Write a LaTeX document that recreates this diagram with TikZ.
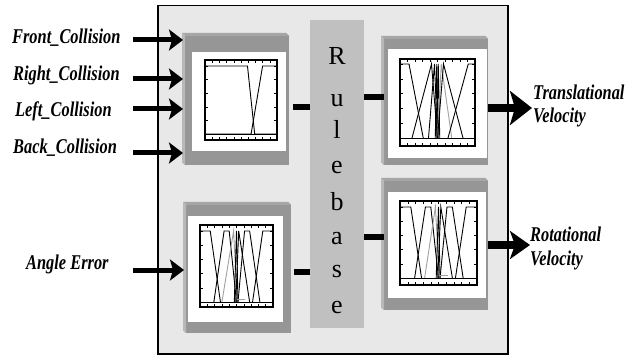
\documentclass[tikz,border=0pt]{standalone}
\usepackage{fontspec}
\setmainfont{Liberation Serif}
\newfontfamily\labfont[FakeStretch=0.78]{Liberation Serif}
\usetikzlibrary{arrows.meta}
\definecolor{outerfill}{HTML}{E8E8E8}
\definecolor{rulefill}{HTML}{C0C0C0}
\definecolor{framefill}{HTML}{969696}
\definecolor{bevtopc}{HTML}{A6A6A6}
\definecolor{bevleftc}{HTML}{B8B8B8}
\definecolor{mfgray}{HTML}{A0A0A0}
\newcommand\bevels[1]{%
  \fill[bevtopc] (#1.north west) -- ++(-3,-3) -- ([shift={(-3,-3)}]#1.north east) -- (#1.north east) -- cycle;
  \fill[bevleftc] (#1.north west) -- ++(-3,-3) -- ([shift={(-3,-3)}]#1.south west) -- (#1.south west) -- cycle;}
% #1 x1 #2 y1 #3 x2 #4 y2 #5 yzero #6 ytop #7 curves
\newcommand\mfplot[7]{%
  \pgfmathsetmacro\vb{(#5-#4)/(#5-#6)}%
  \pgfmathsetmacro\vt{(#5-#2)/(#5-#6)}%
  \begin{scope}[shift={(#1,#5)}, x={(#3pt-#1pt,0pt)}, y={(0pt,#5pt-#6pt)}]
    \foreach \u in {0.1,0.2,...,0.91}{
      \draw[tick] (\u,\vb) -- ++(0,0.04);
      \draw[tick] (\u,\vt) -- ++(0,-0.04);}
    \foreach \v in {0,0.2,...,1.01}{
      \draw[tick] (0,\v) -- ++(0.04,0);
      \draw[tick] (1,\v) -- ++(-0.04,0);}
    #7
    \draw[mf] (0,0) -- (1,0);
    \draw[plotframe] (0,\vb) rectangle (1,\vt);
  \end{scope}}
\begin{document}
\begin{tikzpicture}[x=1pt,y=-1pt,
  outerbox/.style={draw=black, line width=1.5pt, fill=outerfill},
  rulebox/.style={fill=rulefill, draw=none, inner sep=0},
  box3d/.style={fill=framefill, draw=none, inner sep=0, anchor=north west},
  panel/.style={fill=white, draw=none, inner sep=0, anchor=north west},
  plotframe/.style={draw=black, line width=1.3pt},
  tick/.style={line width=0.4pt, black},
  mf/.style={line width=0.9pt, black},
  mfg/.style={line width=0.9pt, mfgray},
  bar/.style={line width=6pt, black},
  inarrow/.style={line width=5pt, -{Stealth[length=14pt,width=21pt,inset=3pt]}},
  outarrow/.style={line width=8pt, -{Stealth[length=22pt,width=34pt,inset=5pt]}},
  lab/.style={font=\labfont\bfseries\itshape\fontsize{21}{21}\selectfont, inner sep=0, anchor=base west},
  rl/.style={font=\fontsize{26}{26}\selectfont, inner sep=0, anchor=base}]
\useasboundingbox (0,0) rectangle (639,355);

% outer box
\node[outerbox, minimum width=350pt, minimum height=348pt, anchor=north west, inner sep=0] (outer) at (157,5) {};

% rulebase column
\node[rulebox, minimum width=54pt, minimum height=308pt, anchor=north west] (rule) at (310,20) {};
\node[rl] (r1) at (337,65) {R};
\node[rl] (r2) at (337,107) {u};
\node[rl] (r3) at (337,139) {l};
\node[rl] (r4) at (337,174) {e};
\node[rl] (r5) at (337,211) {b};
\node[rl] (r6) at (337,244) {a};
\node[rl] (r7) at (337,277) {s};
\node[rl] (r8) at (337,313) {e};

% 3D frames
\node[box3d, minimum width=104pt, minimum height=129pt] (tl) at (185,36) {};
\bevels{tl}
\node[panel, minimum width=94pt, minimum height=99pt] (tlp) at (192,52) {};
\node[box3d, minimum width=104pt, minimum height=126pt] (tr) at (384,39) {};
\bevels{tr}
\node[panel, minimum width=99pt, minimum height=109pt] (trp) at (388,49) {};
\node[box3d, minimum width=105pt, minimum height=128pt] (bl) at (186,205) {};
\bevels{bl}
\node[panel, minimum width=95pt, minimum height=106pt] (blp) at (188,216) {};
\node[box3d, minimum width=104pt, minimum height=129pt] (br) at (384,181) {};
\bevels{br}
\node[panel, minimum width=98pt, minimum height=106pt] (brp) at (388,192) {};

% plots
\mfplot{205}{60}{277}{140}{134}{66}{%
  \draw[mf] (0,1) -- (0.59,1) -- (0.69,0) -- (1,0);
  \draw[mf] (0,0) -- (0.64,0) -- (0.80,1) -- (1,1);}
\mfplot{400}{59}{475}{146}{138}{64}{%
  \draw[mf] (0,1) -- (0.12,1) -- (0.31,0);
  \draw[mf] (0.16,0) -- (0.42,1) -- (0.50,0);
  \draw[mf] (0.38,0) -- (0.46,1) -- (0.50,0);
  \draw[mf] (0.47,0) -- (0.49,1) -- (0.51,0);
  \draw[mf] (0.49,0) -- (0.51,1) -- (0.53,0);
  \draw[mfg] (0.50,0) -- (0.55,1) -- (0.69,0);
  \draw[mf] (0.50,0) -- (0.58,1) -- (0.84,0);
  \draw[mf] (0.64,0) -- (0.91,1) -- (1,1);}
\mfplot{200}{225}{273}{307}{302}{231}{%
  \draw[mf] (0,1) -- (0.14,1) -- (0.28,0);
  \draw[mf] (0.19,0) -- (0.33,1) -- (0.40,1) -- (0.50,0);
  \draw[mfg] (0.30,0) -- (0.46,1) -- (0.51,0);
  \draw[mf] (0.47,0) -- (0.50,1) -- (0.52,0);
  \draw[mf] (0.49,0) -- (0.53,1) -- (0.68,0);
  \draw[mf] (0.52,0) -- (0.61,1) -- (0.68,1) -- (0.82,0);
  \draw[mf] (0.72,0) -- (0.86,1) -- (1,1);
  \draw[mfg] (0.50,0.03) -- (0.62,0.03);}
\mfplot{400}{201}{477}{285}{278}{207}{%
  \draw[mf] (0,1) -- (0.14,1) -- (0.28,0);
  \draw[mf] (0.19,0) -- (0.33,1) -- (0.40,1) -- (0.50,0);
  \draw[mfg] (0.32,0) -- (0.46,1) -- (0.51,0);
  \draw[mf] (0.47,0) -- (0.50,1) -- (0.52,0);
  \draw[mf] (0.49,0) -- (0.53,1) -- (0.68,0);
  \draw[mf] (0.52,0) -- (0.61,1) -- (0.68,1) -- (0.82,0);
  \draw[mf] (0.72,0) -- (0.86,1) -- (1,1);
  \draw[mfg] (0.50,0.03) -- (0.62,0.03);}

% connector bars
\coordinate (b1) at (293,107);
\coordinate (b2) at (364,97);
\coordinate (b3) at (294,272);
\coordinate (b4) at (364,237);
\draw[bar] (b1) -- (b1 -| rule.west);
\draw[bar] (b2) -- (b2 -| tr.west);
\draw[bar] (b3) -- (b3 -| rule.west);
\draw[bar] (b4) -- (b4 -| br.west);

% input labels and arrows
\node[lab] (lf) at (12,44) {Front\_Collision};
\node[lab] (lr) at (13,81) {Right\_Collision};
\node[lab] (ll) at (15,117) {Left\_Collision};
\node[lab] (lb) at (13,154) {Back\_Collision};
\node[lab] (la) at (26,269) {Angle Error};
\coordinate (i1) at (133,40);
\coordinate (i2) at (133,79);
\coordinate (i3) at (133,109);
\coordinate (i4) at (133,153);
\coordinate (i5) at (133,270);
\draw[inarrow, shorten >=2pt] (i1) -- (i1 -| tl.west);
\draw[inarrow, shorten >=2pt] (i2) -- (i2 -| tl.west);
\draw[inarrow, shorten >=2pt] (i3) -- (i3 -| tl.west);
\draw[inarrow, shorten >=2pt] (i4) -- (i4 -| tl.west);
\draw[inarrow, shorten >=2pt] (i5) -- (i5 -| bl.west);

% outputs
\coordinate (o1) at (532,108);
\coordinate (o2) at (530,245);
\draw[outarrow] (o1 -| tr.east) -- (o1);
\draw[outarrow, -{Stealth[length=20pt,width=28pt,inset=5pt]}] (o2 -| br.east) -- (o2);
\node[lab] (ot1) at (533,100) {Translational};
\node[lab] (ot2) at (533,123) {Velocity};
\node[lab] (or1) at (530,241) {Rotational};
\node[lab] (or2) at (530,265) {Velocity};
\end{tikzpicture}
\end{document}
